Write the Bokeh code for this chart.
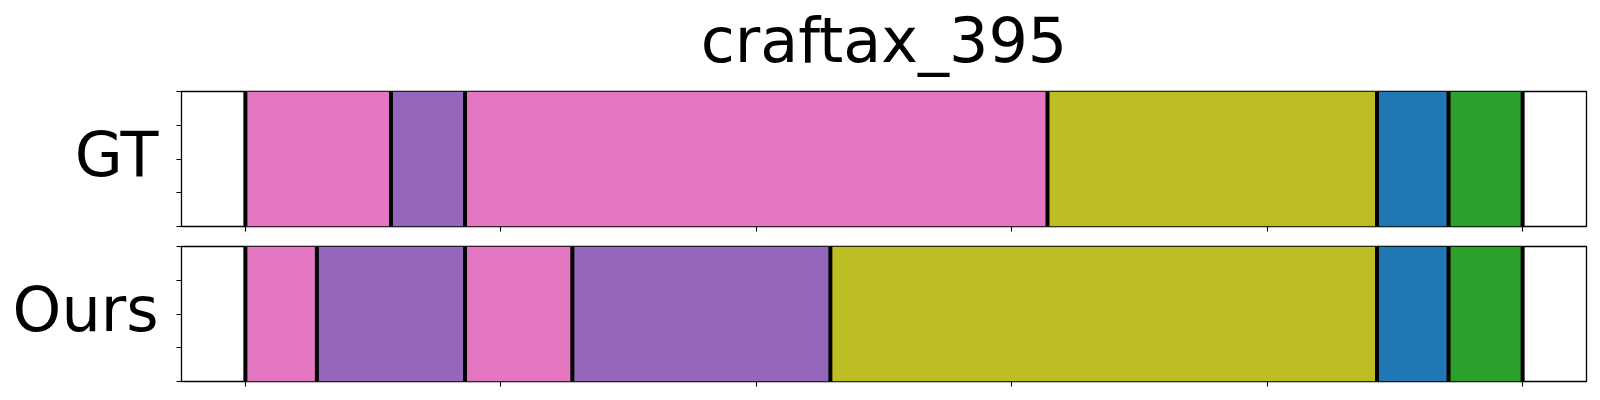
from bokeh.plotting import figure
from bokeh.layouts import column
from bokeh.models import FixedTicker, Range1d, Title
from bokeh.embed import file_html
from bokeh.resources import INLINE

# ---- data ----
title_text = "craftax_395"
row_labels = ["GT", "Ours"]

gt_starts = [0, 57, 86, 314, 443, 471]
gt_ends = [57, 86, 314, 443, 471, 500]
gt_classes = ["pink", "purple", "pink", "olive", "blue", "green"]

ours_starts = [0, 28, 86, 128, 229, 443, 471]
ours_ends = [28, 86, 128, 229, 443, 471, 500]
ours_classes = ["pink", "purple", "pink", "purple", "olive", "blue", "green"]

palette = {
    "pink": "#e377c2",
    "purple": "#9467bd",
    "olive": "#bcbd22",
    "blue": "#1f77b4",
    "green": "#2ca02c",
}

x_ticks = [0, 100, 200, 300, 400, 500]
y_ticks = [0, 0.25, 0.5, 0.75, 1.0]
x_min, x_max = -25, 525

FONT = "DejaVu Sans"
FRAME_W, FRAME_H = 1405, 135
LABEL_Y = 0.5 + 5 / FRAME_H   # row label sits slightly above the middle


def make_row(label, starts, ends, classes, border_top, border_bottom):
    p = figure(
        frame_width=FRAME_W, frame_height=FRAME_H, title=None,
        min_border_left=181, min_border_right=6,
        min_border_top=border_top, min_border_bottom=border_bottom,
        x_range=Range1d(x_min, x_max), y_range=Range1d(0, 1),
        output_backend="svg", toolbar_location=None,
    )
    p.quad(left=starts, right=ends, bottom=0, top=1,
           fill_color=[palette[c] for c in classes], line_color=None)
    bounds = sorted(set(starts) | set(ends))
    p.segment(x0=bounds, x1=bounds, y0=[0] * len(bounds), y1=[1] * len(bounds),
              line_color="black", line_width=4)

    p.grid.visible = False
    p.outline_line_color = "black"
    p.outline_line_width = 1.3
    p.background_fill_color = "white"
    p.border_fill_color = "white"

    xa = p.xaxis[0]
    xa.ticker = FixedTicker(ticks=[], minor_ticks=x_ticks)
    ya = p.yaxis[0]
    ya.ticker = FixedTicker(ticks=[LABEL_Y], minor_ticks=y_ticks)
    ya.major_label_overrides = {LABEL_Y: label}
    ya.major_label_text_font = FONT
    ya.major_label_text_font_size = "62px"
    ya.major_label_text_color = "black"
    ya.major_label_standoff = 18

    for ax in (xa, ya):
        ax.axis_line_color = None
        ax.major_tick_out = 0
        ax.major_tick_in = 0
        ax.major_tick_line_color = None
        ax.minor_tick_out = 5
        ax.minor_tick_in = 0
        ax.minor_tick_line_color = "black"
        ax.minor_tick_line_width = 1.1
    return p


p1 = make_row(row_labels[0], gt_starts, gt_ends, gt_classes, 90, 10)
p1.add_layout(Title(text=title_text, align="center", standoff=2,
                    padding=dict(left=0, right=0, top=0, bottom=14),
                    text_font=FONT, text_font_size="62px",
                    text_font_style="normal", text_color="black"), "above")

p2 = make_row(row_labels[1], ours_starts, ours_ends, ours_classes, 10, 15)

layout = column(p1, p2, spacing=0)
open("out.html", "w").write(file_html(layout, INLINE))
